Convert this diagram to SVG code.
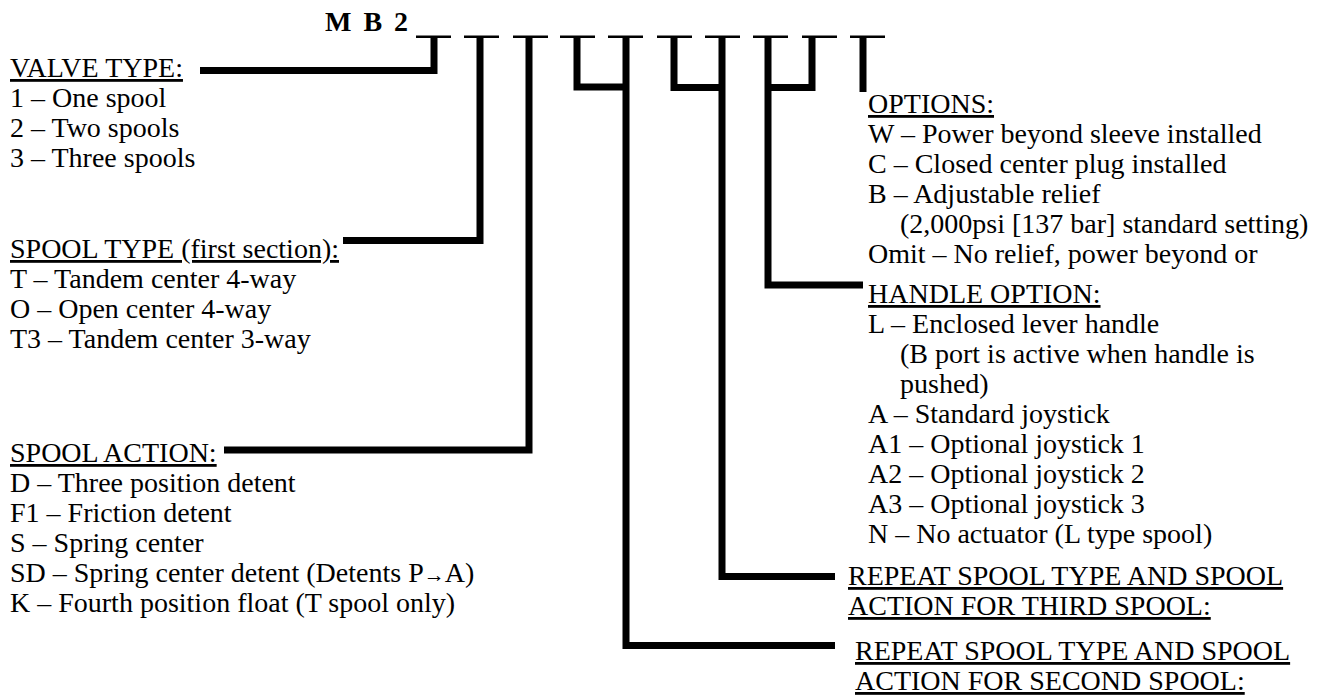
<svg xmlns="http://www.w3.org/2000/svg" width="1320" height="695" viewBox="0 0 1320 695">
<style>
text{font-family:"Liberation Serif","Times New Roman",serif;font-size:28px;fill:#000}
.h{text-decoration:underline}
.t{font-weight:bold;font-size:28px;letter-spacing:2.5px}
.c{fill:none;stroke:#000;stroke-width:7;stroke-linejoin:miter;stroke-linecap:butt}
.d{fill:#000}
.ar{font-size:21px}
</style>
<rect width="1320" height="695" fill="#fff"/>
<g id="code">
<text class="t" x="325" y="31">M B 2</text>
<rect class="d" x="416" y="35.5" width="35" height="2.5"/>
<rect class="d" x="464" y="35.5" width="35" height="2.5"/>
<rect class="d" x="513" y="35.5" width="35" height="2.5"/>
<rect class="d" x="560" y="35.5" width="35" height="2.5"/>
<rect class="d" x="608" y="35.5" width="35" height="2.5"/>
<rect class="d" x="657" y="35.5" width="35" height="2.5"/>
<rect class="d" x="705" y="35.5" width="35" height="2.5"/>
<rect class="d" x="753" y="35.5" width="35" height="2.5"/>
<rect class="d" x="802" y="35.5" width="35" height="2.5"/>
<rect class="d" x="850" y="35.5" width="35" height="2.5"/>
</g>
<g id="connectors">
<path class="c" d="M200,70.5 H434 V37"/>
<path class="c" d="M343,240.5 H480 V37"/>
<path class="c" d="M224,450 H529 V37"/>
<path class="c" d="M577,37 V87 H626"/>
<path class="c" d="M835,645.5 H626 V37"/>
<path class="c" d="M674,37 V87.5 H722"/>
<path class="c" d="M835,576.5 H722 V37"/>
<path class="c" d="M812,37 V87.5 H768"/>
<path class="c" d="M863,285 H768 V37"/>
<path class="c" d="M863,37 V92"/>
</g>
<g id="valve-type">
<text class="h" x="10" y="77">VALVE TYPE:</text>
<text x="10" y="107">1 – One spool</text>
<text x="10" y="137">2 – Two spools</text>
<text x="10" y="167">3 – Three spools</text>
</g>
<g id="spool-type">
<text class="h" x="10" y="258">SPOOL TYPE (first section):</text>
<text x="10" y="288">T – Tandem center 4-way</text>
<text x="10" y="318">O – Open center 4-way</text>
<text x="10" y="348">T3 – Tandem center 3-way</text>
</g>
<g id="spool-action">
<text class="h" x="10" y="462">SPOOL ACTION:</text>
<text x="10" y="492">D – Three position detent</text>
<text x="10" y="522">F1 – Friction detent</text>
<text x="10" y="552">S – Spring center</text>
<text x="10" y="582">SD – Spring center detent (Detents P<tspan class="ar">→</tspan>A)</text>
<text x="10" y="612">K – Fourth position float (T spool only)</text>
</g>
<g id="options">
<text class="h" x="868" y="113">OPTIONS:</text>
<text x="868" y="143">W – Power beyond sleeve installed</text>
<text x="868" y="173">C – Closed center plug installed</text>
<text x="868" y="203">B – Adjustable relief</text>
<text x="900" y="233">(2,000psi [137 bar] standard setting)</text>
<text x="868" y="263">Omit – No relief, power beyond or</text>
</g>
<g id="handle-option">
<text class="h" x="868" y="303">HANDLE OPTION:</text>
<text x="868" y="333">L – Enclosed lever handle</text>
<text x="900" y="363">(B port is active when handle is</text>
<text x="900" y="393">pushed)</text>
<text x="868" y="423">A – Standard joystick</text>
<text x="868" y="453">A1 – Optional joystick 1</text>
<text x="868" y="483">A2 – Optional joystick 2</text>
<text x="868" y="513">A3 – Optional joystick 3</text>
<text x="868" y="543">N – No actuator (L type spool)</text>
</g>
<g id="repeat-third">
<text class="h" x="848" y="585">REPEAT SPOOL TYPE AND SPOOL</text>
<text class="h" x="848" y="615">ACTION FOR THIRD SPOOL:</text>
</g>
<g id="repeat-second">
<text class="h" x="855" y="660">REPEAT SPOOL TYPE AND SPOOL</text>
<text class="h" x="855" y="690">ACTION FOR SECOND SPOOL:</text>
</g>
</svg>
